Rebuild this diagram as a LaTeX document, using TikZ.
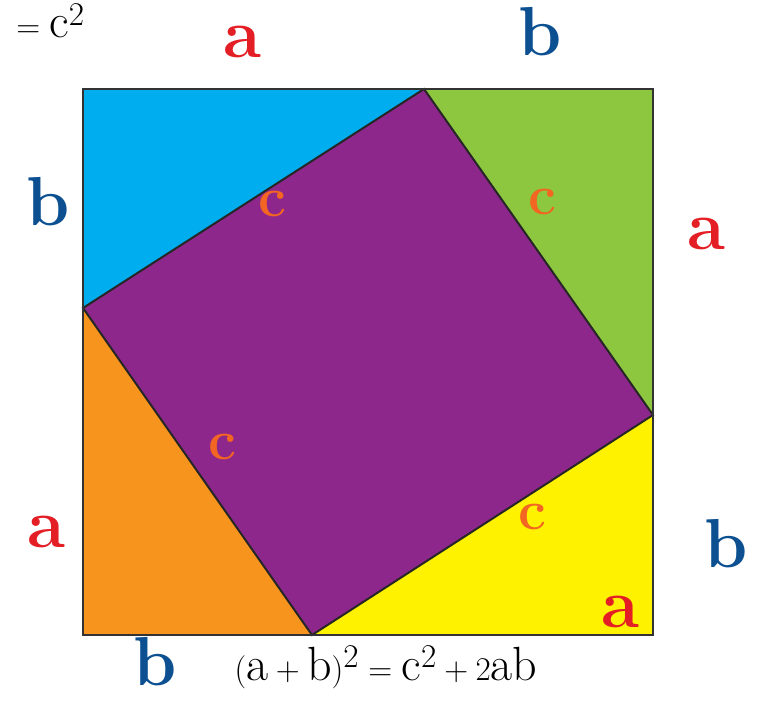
\documentclass[tikz,border=0pt]{standalone}
\usepackage{fontspec}
\definecolor{tblue}{RGB}{0,174,239}
\definecolor{tgreen}{RGB}{141,198,63}
\definecolor{tpurple}{RGB}{142,39,140}
\definecolor{torange}{RGB}{247,148,29}
\definecolor{tyellow}{RGB}{255,242,0}
\definecolor{hred}{RGB}{227,30,36}
\definecolor{hblue}{RGB}{12,80,145}
\definecolor{horange}{RGB}{242,101,34}
\begin{document}
\begin{tikzpicture}[x=0.75pt,y=-0.75pt,
  hand/.style={font=\fontsize{52}{52}\selectfont\bfseries, inner sep=0pt},
  la/.style={hand, text=hred},
  lb/.style={hand, text=hblue},
  lc/.style={hand, text=horange, font=\fontsize{42}{42}\selectfont\bfseries},
  piece/.style={draw=black!85, line width=1.5pt, line join=miter},
  frame/.style={draw=black!80, line width=2.2pt},
  printed/.style={inner sep=0pt, font=\fontsize{36}{40}\selectfont}]
\useasboundingbox (0,0) rectangle (773,705);
\coordinate (TL) at (83,89);
\coordinate (TR) at (653,89);
\coordinate (BR) at (653,635);
\coordinate (BL) at (83,635);
\coordinate (PT) at (424,89);
\coordinate (PR) at (653,415);
\coordinate (PB) at (312,635);
\coordinate (PL) at (83,308);
\fill[tblue] (TL) -- (PT) -- (PL) -- cycle;
\fill[tgreen] (PT) -- (TR) -- (PR) -- cycle;
\fill[tyellow] (PR) -- (BR) -- (PB) -- cycle;
\fill[torange] (PB) -- (BL) -- (PL) -- cycle;
\fill[tpurple] (PT) -- (PR) -- (PB) -- (PL) -- cycle;
\draw[piece] (PT) -- (PR) -- (PB) -- (PL) -- cycle;
\draw[frame] (TL) rectangle (BR);
% handwritten labels
\node[la] (atop) at (242,42) {a};
\node[lb] (btop) at (540,32) {b};
\node[lb] (bleft) at (48,202) {b};
\node[la] (aright) at (706,234) {a};
\node[la] (aleft) at (46,532) {a};
\node[lb] (bright) at (726,544) {b};
\node[la] (abot) at (620,612) {a};
\node[lb] (bbot) at (155,662) {b};
\node[lc] (c1) at (272,204) {c};
\node[lc] (c2) at (542,202) {c};
\node[lc] (c3) at (222,447) {c};
\node[lc] (c4) at (532,517) {c};
% printed text
\node[printed, anchor=base west] (eqtop) at (16,38) {$=\mathrm{c}^2$};
\node[printed, anchor=base] (eqbot) at (386,680) {$(\mathrm{a}+\mathrm{b})^2=\mathrm{c}^2+2\mathrm{ab}$};
\end{tikzpicture}
\end{document}
